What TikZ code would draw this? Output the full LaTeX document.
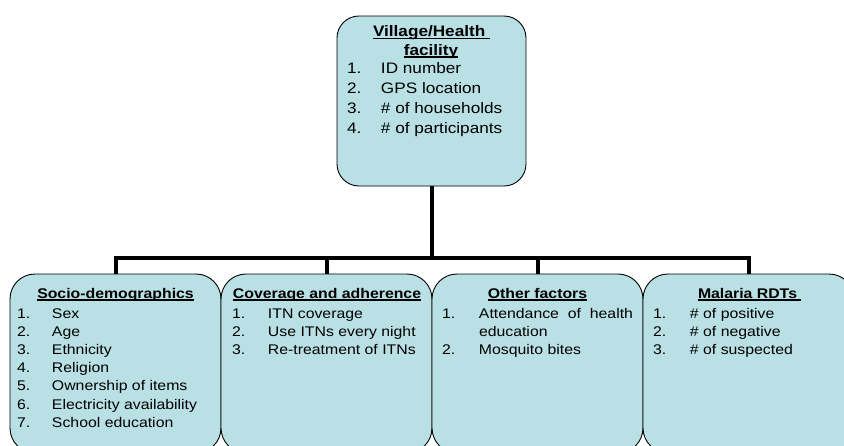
\documentclass[tikz,border=0pt]{standalone}
\usepackage{fontspec}
\setmainfont{Liberation Sans}[FakeStretch=1.13]
\usepackage{array}
\definecolor{boxfill}{RGB}{185,224,228}
\newcommand{\topf}{\fontsize{15.2}{20}\selectfont}
\newcommand{\botf}{\fontsize{14}{18.2}\selectfont}
\newcommand{\ulx}[1]{\setbox0=\hbox{#1}\rlap{\rule[-2.7pt]{\wd0}{1.4pt}}\box0}
\begin{document}
\begin{tikzpicture}[x=1pt,y=-1pt,
  box/.style={draw=black, line width=0.9pt, fill=boxfill, inner sep=0pt},
  topbox/.style={box, rounded corners=22pt, minimum width=189pt, minimum height=170pt},
  botbox/.style={box, rounded corners=25pt, minimum width=211pt, minimum height=179pt},
  conn/.style={draw=black, line width=4pt},
  txt/.style={anchor=base west, inner sep=0pt, outer sep=0pt},
  head/.style={anchor=base, inner sep=0pt, outer sep=0pt}]
\useasboundingbox (0,0) rectangle (844,445);
\clip (0,0) rectangle (844,445);
% boxes
\node[topbox] (top) at (431.5,101) {};
\node[botbox] (b1) at (115.5,363.5) {};
\node[botbox] (b2) at (326.5,363.5) {};
\node[botbox] (b3) at (537.5,363.5) {};
\node[botbox] (b4) at (748.5,363.5) {};
% connectors
\coordinate (bar) at (431.5,258);
\draw[conn] (top.south) -- (bar);
\draw[conn] (b1.north) |- (bar) -| (b4.north);
\draw[conn] (b2.north |- bar) -- (b2.north);
\draw[conn] (b3.north |- bar) -- (b3.north);
% top box text
\node[txt, font=\topf\bfseries] (th1) at (373,36.5) {\ulx{Village/Health\ }};
\node[head, font=\topf\bfseries] (th2) at (431,55) {\ulx{facility}};
\node[txt] (tl) at (347,73.5) {\topf\begin{tabular}[t]{@{}p{34pt}@{}l@{}}
1.&ID number\\
2.&GPS location\\
3.&\# of households\\
4.&\# of participants
\end{tabular}};
% box 1
\node[head, font=\botf\bfseries] (h1) at (115.5,298) {\ulx{Socio-demographics}};
\node[txt] (l1) at (17,318) {\botf\begin{tabular}[t]{@{}p{35pt}@{}l@{}}
1.&Sex\\
2.&Age\\
3.&Ethnicity\\
4.&Religion\\
5.&Ownership of items\\
6.&Electricity availability\\
7.&School education
\end{tabular}};
% box 2
\node[head, font=\botf\bfseries] (h2) at (327,298) {\ulx{Coverage and adherence}};
\node[txt] (l2) at (232,318) {\botf\begin{tabular}[t]{@{}p{36pt}@{}l@{}}
1.&ITN coverage\\
2.&Use ITNs every night\\
3.&Re-treatment of ITNs
\end{tabular}};
% box 3
\node[head, font=\botf\bfseries] (h3) at (537.5,298) {\ulx{Other factors}};
\node[txt] (l3) at (442,318) {\botf\begin{tabular}[t]{@{}p{37pt}@{}l@{}}
1.&\makebox[154pt][s]{Attendance of health}\\
&education\\
2.&Mosquito bites
\end{tabular}};
% box 4
\node[txt, font=\botf\bfseries] (h4) at (698,298) {\ulx{Malaria RDTs\ }};
\node[txt] (l4) at (653,318) {\botf\begin{tabular}[t]{@{}p{37pt}@{}l@{}}
1.&\# of positive\\
2.&\# of negative\\
3.&\# of suspected
\end{tabular}};
\end{tikzpicture}
\end{document}
